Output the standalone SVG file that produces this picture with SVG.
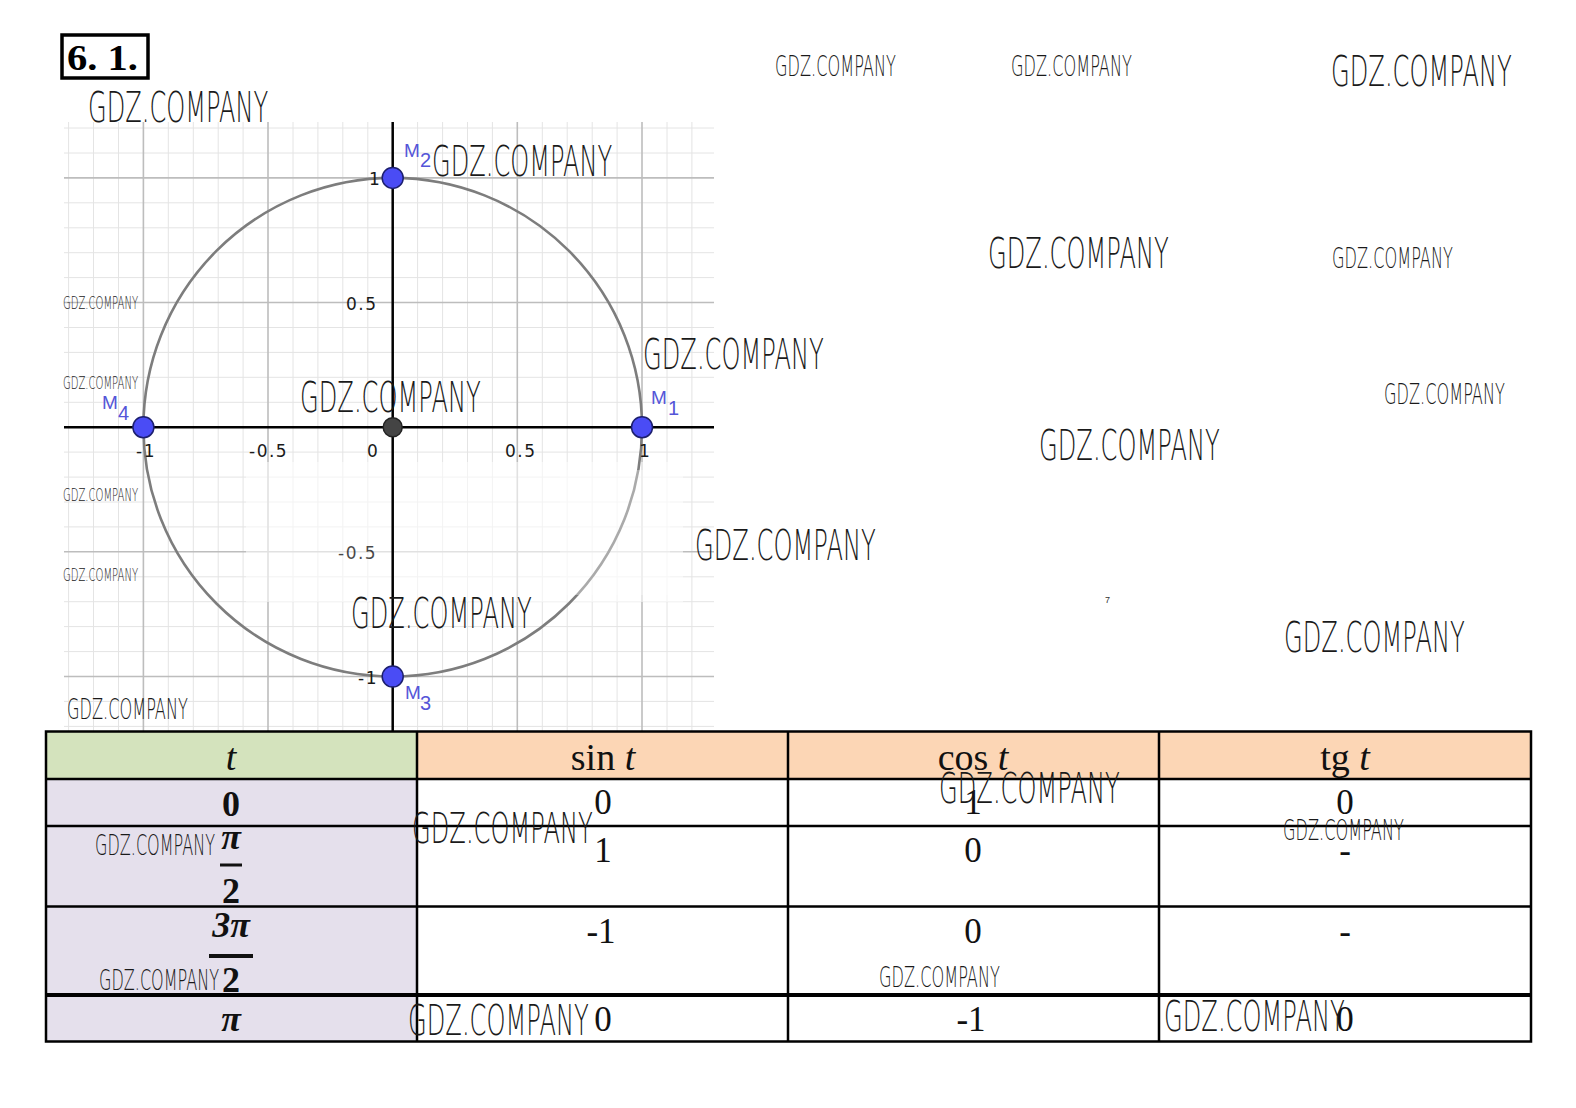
<svg xmlns="http://www.w3.org/2000/svg" width="1576" height="1108" viewBox="0 0 1576 1108">
<style>
.minor{stroke:#e4e4e4;stroke-width:1;fill:none}
.major{stroke:#bdbdbd;stroke-width:1.6;fill:none}
.axis{stroke:#000;stroke-width:2.5;fill:none}
.tick{font-family:"DejaVu Sans","Liberation Sans",sans-serif;font-size:17px;letter-spacing:1.5px;fill:#1a1a1a}
.pt{fill:#4a4cf5;stroke:#1c1f6e;stroke-width:1.5}
.lbl{font-family:"Liberation Sans","DejaVu Sans",sans-serif;fill:#5455d8}
.cell{stroke:#000;stroke-width:2.5;fill:none}
.hd{font-family:"Liberation Serif","DejaVu Serif",serif;font-size:38px;fill:#111;text-anchor:middle}
.v{font-family:"Liberation Serif","DejaVu Serif",serif;font-size:35px;fill:#111;text-anchor:middle}
.m{font-family:"Liberation Serif","DejaVu Serif",serif;font-size:36px;font-weight:bold;fill:#111;text-anchor:middle}
.wm{font-family:"DejaVu Sans","Liberation Sans",sans-serif;font-weight:200;fill:#1a1a1a}
.wl{font-size:43px}
.wd{font-size:28px}
.ws{font-size:17px}
</style>
<rect width="1576" height="1108" fill="#fff"/>
<g id="title">
<rect x="62" y="35" width="86" height="43" fill="none" stroke="#000" stroke-width="3.5"/>
<text x="67" y="70" font-family="'Liberation Serif','DejaVu Serif',serif" font-size="36" font-weight="bold" textLength="71" lengthAdjust="spacingAndGlyphs">6. 1.</text>
</g>
<g id="graph">
<path class="minor" d="M68.6 122V731M93.5 122V731M118.5 122V731M168.3 122V731M193.3 122V731M218.2 122V731M243.1 122V731M293 122V731M317.9 122V731M342.8 122V731M367.8 122V731M417.6 122V731M442.6 122V731M467.5 122V731M492.4 122V731M542.3 122V731M567.2 122V731M592.2 122V731M617.1 122V731M667 122V731M691.9 122V731M64 128H714M64 153H714M64 202.8H714M64 227.8H714M64 252.7H714M64 277.6H714M64 327.5H714M64 352.4H714M64 377.3H714M64 402.3H714M64 452.1H714M64 477.1H714M64 502H714M64 526.9H714M64 576.8H714M64 601.7H714M64 626.6H714M64 651.6H714M64 701.4H714M64 726.4H714"/>
<path class="major" d="M143.4 122V731M268 122V731M517.3 122V731M642 122V731M64 177.9H714M64 302.5H714M64 551.8H714M64 676.5H714"/>
<rect x="246" y="462" width="437" height="140" fill="#fff" opacity="0.55"/>
<path class="axis" d="M64 427.2H714M392.7 122V731"/>
<circle cx="392.7" cy="427.2" r="249.3" fill="none" stroke="#7d7d7d" stroke-width="2.6"/>
<rect x="560" y="470" width="110" height="125" fill="#fff" opacity="0.35"/>
<g class="tick">
<text x="369" y="185">1</text>
<text x="346" y="310">0.5</text>
<text x="338" y="559" opacity="0.8">-0.5</text>
<text x="358" y="684">-1</text>
<text x="136" y="456.5">-1</text>
<text x="249" y="456.5">-0.5</text>
<text x="367" y="456.5">0</text>
<text x="505" y="456.5">0.5</text>
<text x="639" y="456.5">1</text>
</g>
<g id="origin"><circle cx="392.7" cy="427.2" r="9.5" fill="#444" stroke="#222" stroke-width="1.5"/></g>
<g id="M1"><circle class="pt" cx="642" cy="427.2" r="10.5"/><text class="lbl" x="651" y="404" font-size="19">M</text><text class="lbl" x="668" y="415" font-size="20">1</text></g>
<g id="M2"><circle class="pt" cx="392.7" cy="177.9" r="10.5"/><text class="lbl" x="404" y="157" font-size="19">M</text><text class="lbl" x="420" y="167" font-size="20">2</text></g>
<g id="M3"><circle class="pt" cx="392.7" cy="676.5" r="10.5"/><text class="lbl" x="405" y="699" font-size="19">M</text><text class="lbl" x="420" y="710" font-size="20">3</text></g>
<g id="M4"><circle class="pt" cx="143.4" cy="427.2" r="10.5"/><text class="lbl" x="102" y="409" font-size="19">M</text><text class="lbl" x="118" y="420" font-size="20">4</text></g>
</g>
<g id="table">
<rect x="46" y="731.5" width="371" height="47.5" fill="#d4e3bd"/>
<rect x="417" y="731.5" width="1114" height="47.5" fill="#fcd6b5"/>
<rect x="46" y="779" width="371" height="262.5" fill="#e5e0ec"/>
<rect x="417" y="779" width="1114" height="262.5" fill="#fff"/>
<path class="cell" d="M46 731.5H1531V1041.5H46ZM46 779H1531M46 826H1531M46 906.5H1531M417 731.5V1041.5M788 731.5V1041.5M1159 731.5V1041.5"/>
<path d="M46 995H1531" stroke="#000" stroke-width="4"/>
<text class="hd" x="231" y="770" font-style="italic">t</text>
<text class="hd" x="603" y="770">sin <tspan font-style="italic">t</tspan></text>
<text class="hd" x="973" y="770">cos <tspan font-style="italic">t</tspan></text>
<text class="hd" x="1345" y="770">tg <tspan font-style="italic">t</tspan></text>
<text class="m" x="231" y="816">0</text>
<text class="m" x="231" y="849" font-style="italic">π</text>
<path d="M220 865H242" stroke="#111" stroke-width="3"/>
<text class="m" x="231" y="903">2</text>
<text class="m" x="231" y="937" font-style="italic">3π</text>
<path d="M209 956H253" stroke="#111" stroke-width="4"/>
<text class="m" x="231" y="992">2</text>
<text class="m" x="231" y="1031" font-style="italic">π</text>
<text class="v" x="603" y="814">0</text>
<text class="v" x="973" y="814">1</text>
<text class="v" x="1345" y="814">0</text>
<text class="v" x="603" y="862">1</text>
<text class="v" x="973" y="862">0</text>
<text class="v" x="1345" y="862">-</text>
<text class="v" x="601" y="943">-1</text>
<text class="v" x="973" y="943">0</text>
<text class="v" x="1345" y="943">-</text>
<text class="v" x="603" y="1031">0</text>
<text class="v" x="971" y="1031">-1</text>
<text class="v" x="1345" y="1031">0</text>
</g>
<g id="watermarks" class="wm">
<text class="wl" transform="matrix(0.556 0 0 1 88 122)" textLength="324" lengthAdjust="spacingAndGlyphs">GDZ.COMPANY</text>
<text class="wl" transform="matrix(0.556 0 0 1 432 176)" textLength="324" lengthAdjust="spacingAndGlyphs">GDZ.COMPANY</text>
<text class="wl" transform="matrix(0.558 0 0 1 1331 86)" textLength="324" lengthAdjust="spacingAndGlyphs">GDZ.COMPANY</text>
<text class="wl" transform="matrix(0.558 0 0 1 988 268)" textLength="324" lengthAdjust="spacingAndGlyphs">GDZ.COMPANY</text>
<text class="wl" transform="matrix(0.558 0 0 1 643 369)" textLength="324" lengthAdjust="spacingAndGlyphs">GDZ.COMPANY</text>
<text class="wl" transform="matrix(0.558 0 0 1 300 412)" textLength="324" lengthAdjust="spacingAndGlyphs">GDZ.COMPANY</text>
<text class="wl" transform="matrix(0.558 0 0 1 1039 460)" textLength="324" lengthAdjust="spacingAndGlyphs">GDZ.COMPANY</text>
<text class="wl" transform="matrix(0.558 0 0 1 695 560)" textLength="324" lengthAdjust="spacingAndGlyphs">GDZ.COMPANY</text>
<text class="wl" transform="matrix(0.558 0 0 1 351 628)" textLength="324" lengthAdjust="spacingAndGlyphs">GDZ.COMPANY</text>
<text class="wl" transform="matrix(0.558 0 0 1 1284 652)" textLength="324" lengthAdjust="spacingAndGlyphs">GDZ.COMPANY</text>
<text class="wl" transform="matrix(0.558 0 0 1 939 803)" textLength="324" lengthAdjust="spacingAndGlyphs">GDZ.COMPANY</text>
<text class="wl" transform="matrix(0.558 0 0 1 412 843)" textLength="324" lengthAdjust="spacingAndGlyphs">GDZ.COMPANY</text>
<text class="wl" transform="matrix(0.558 0 0 1 408 1035)" textLength="324" lengthAdjust="spacingAndGlyphs">GDZ.COMPANY</text>
<text class="wl" transform="matrix(0.558 0 0 1 1164 1031)" textLength="324" lengthAdjust="spacingAndGlyphs">GDZ.COMPANY</text>
<text class="wd" transform="matrix(0.573 0 0 1 775 76)" textLength="211" lengthAdjust="spacingAndGlyphs">GDZ.COMPANY</text>
<text class="wd" transform="matrix(0.573 0 0 1 1011 76)" textLength="211" lengthAdjust="spacingAndGlyphs">GDZ.COMPANY</text>
<text class="wd" transform="matrix(0.573 0 0 1 1332 268)" textLength="211" lengthAdjust="spacingAndGlyphs">GDZ.COMPANY</text>
<text class="wd" transform="matrix(0.573 0 0 1 1384 404)" textLength="211" lengthAdjust="spacingAndGlyphs">GDZ.COMPANY</text>
<text class="wd" transform="matrix(0.573 0 0 1 67 719)" textLength="211" lengthAdjust="spacingAndGlyphs">GDZ.COMPANY</text>
<text class="wd" transform="matrix(0.569 0 0 1 95 855)" textLength="211" lengthAdjust="spacingAndGlyphs">GDZ.COMPANY</text>
<text class="wd" transform="matrix(0.569 0 0 1 99 990)" textLength="211" lengthAdjust="spacingAndGlyphs">GDZ.COMPANY</text>
<text class="wd" transform="matrix(0.573 0 0 1 879 987)" textLength="211" lengthAdjust="spacingAndGlyphs">GDZ.COMPANY</text>
<text class="wd" transform="matrix(0.573 0 0 1 1283 840)" textLength="211" lengthAdjust="spacingAndGlyphs">GDZ.COMPANY</text>
<text class="ws" transform="matrix(0.586 0 0 1 63 309)" textLength="128" lengthAdjust="spacingAndGlyphs">GDZ.COMPANY</text>
<text class="ws" transform="matrix(0.586 0 0 1 63 389)" textLength="128" lengthAdjust="spacingAndGlyphs">GDZ.COMPANY</text>
<text class="ws" transform="matrix(0.586 0 0 1 63 501)" textLength="128" lengthAdjust="spacingAndGlyphs">GDZ.COMPANY</text>
<text class="ws" transform="matrix(0.586 0 0 1 63 581)" textLength="128" lengthAdjust="spacingAndGlyphs">GDZ.COMPANY</text>
<text x="1105" y="603" font-family="'Liberation Sans',sans-serif" font-size="9" fill="#333">7</text>
</g>
</svg>
